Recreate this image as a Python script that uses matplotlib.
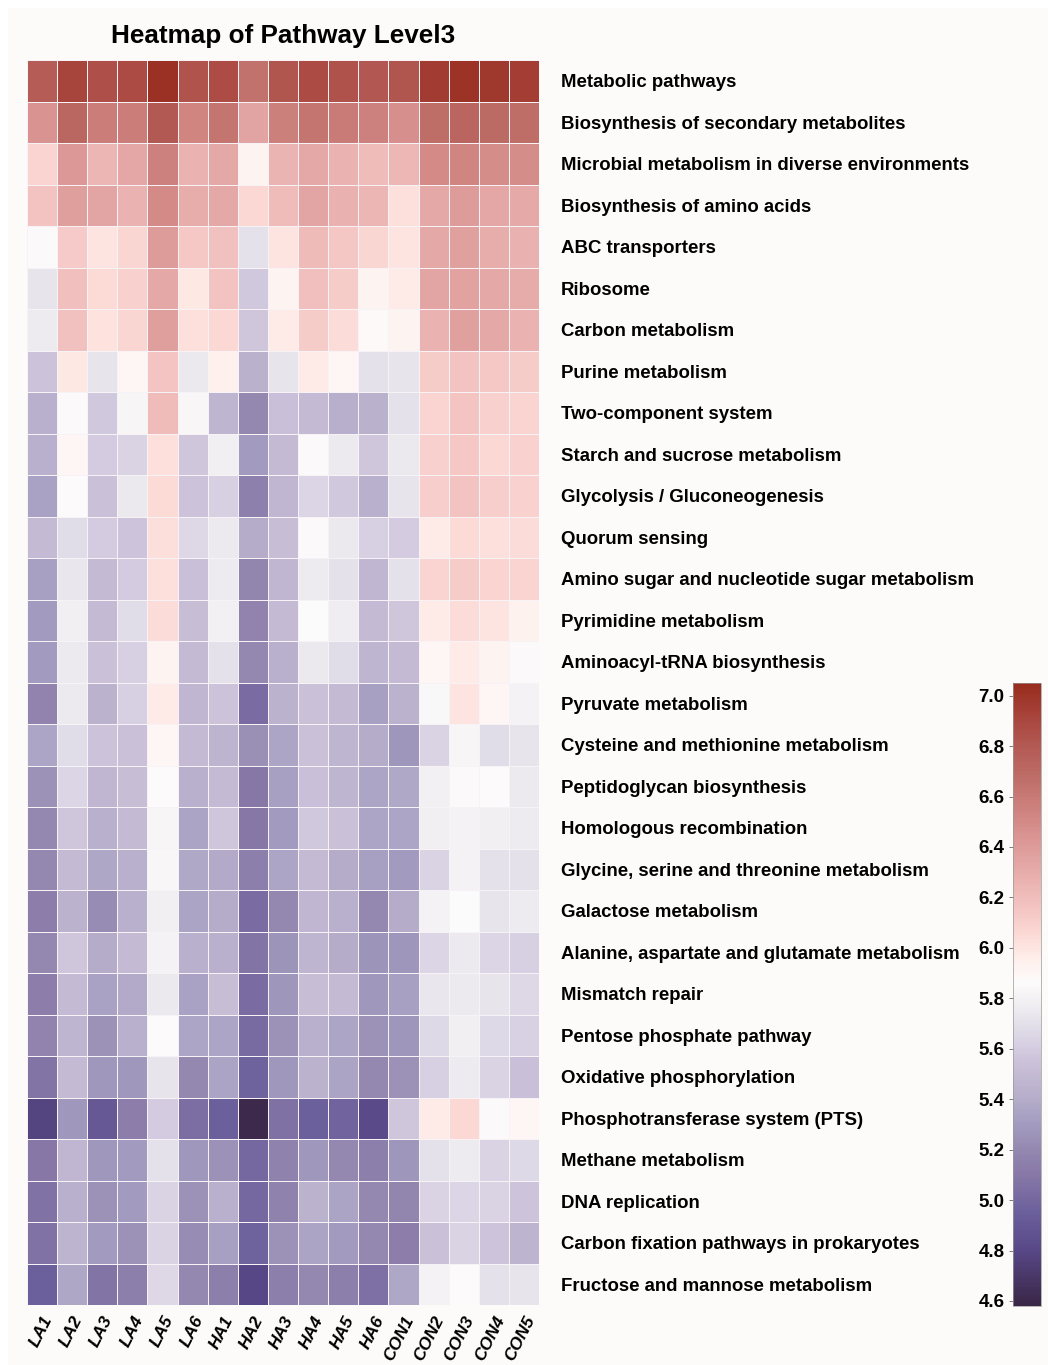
import numpy as np
import matplotlib
matplotlib.use("Agg")
import matplotlib.pyplot as plt
from matplotlib.colors import LinearSegmentedColormap, Normalize
from matplotlib.patches import Rectangle

plt.rcParams['font.family'] = ['Liberation Sans', 'DejaVu Sans']

samples = ['LA1', 'LA2', 'LA3', 'LA4', 'LA5', 'LA6',
           'HA1', 'HA2', 'HA3', 'HA4', 'HA5', 'HA6',
           'CON1', 'CON2', 'CON3', 'CON4', 'CON5']

pathways = [
    'Metabolic pathways',
    'Biosynthesis of secondary metabolites',
    'Microbial metabolism in diverse environments',
    'Biosynthesis of amino acids',
    'ABC transporters',
    'Ribosome',
    'Carbon metabolism',
    'Purine metabolism',
    'Two-component system',
    'Starch and sucrose metabolism',
    'Glycolysis / Gluconeogenesis',
    'Quorum sensing',
    'Amino sugar and nucleotide sugar metabolism',
    'Pyrimidine metabolism',
    'Aminoacyl-tRNA biosynthesis',
    'Pyruvate metabolism',
    'Cysteine and methionine metabolism',
    'Peptidoglycan biosynthesis',
    'Homologous recombination',
    'Glycine, serine and threonine metabolism',
    'Galactose metabolism',
    'Alanine, aspartate and glutamate metabolism',
    'Mismatch repair',
    'Pentose phosphate pathway',
    'Oxidative phosphorylation',
    'Phosphotransferase system (PTS)',
    'Methane metabolism',
    'DNA replication',
    'Carbon fixation pathways in prokaryotes',
    'Fructose and mannose metabolism',
]

# log abundance per pathway (rows) and sample (columns)
abundance = [
    [6.78, 6.92, 6.85, 6.88, 7.02, 6.83, 6.87, 6.65, 6.82, 6.88, 6.84, 6.81, 6.82, 6.96, 7.01, 6.98, 6.95],
    [6.45, 6.72, 6.58, 6.58, 6.80, 6.53, 6.63, 6.35, 6.56, 6.63, 6.59, 6.55, 6.48, 6.68, 6.73, 6.70, 6.68],
    [6.08, 6.42, 6.24, 6.33, 6.55, 6.26, 6.32, 5.93, 6.25, 6.32, 6.26, 6.21, 6.23, 6.50, 6.53, 6.49, 6.49],
    [6.17, 6.38, 6.34, 6.26, 6.50, 6.29, 6.32, 6.06, 6.21, 6.34, 6.27, 6.24, 6.02, 6.32, 6.40, 6.33, 6.31],
    [5.85, 6.13, 6.00, 6.07, 6.40, 6.14, 6.18, 5.70, 6.00, 6.22, 6.15, 6.07, 6.00, 6.32, 6.37, 6.29, 6.27],
    [5.72, 6.19, 6.05, 6.10, 6.32, 5.98, 6.17, 5.58, 5.92, 6.19, 6.12, 5.93, 5.97, 6.34, 6.36, 6.32, 6.30],
    [5.76, 6.18, 6.01, 6.07, 6.38, 6.02, 6.06, 5.57, 5.97, 6.12, 6.04, 5.88, 5.93, 6.26, 6.37, 6.32, 6.26],
    [5.55, 5.98, 5.72, 5.90, 6.16, 5.74, 5.95, 5.43, 5.72, 5.97, 5.90, 5.70, 5.72, 6.12, 6.17, 6.14, 6.12],
    [5.42, 5.85, 5.58, 5.82, 6.21, 5.83, 5.46, 5.20, 5.53, 5.50, 5.41, 5.43, 5.70, 6.08, 6.16, 6.10, 6.08],
    [5.42, 5.90, 5.60, 5.64, 6.02, 5.57, 5.78, 5.30, 5.50, 5.85, 5.75, 5.57, 5.74, 6.10, 6.14, 6.06, 6.09],
    [5.34, 5.87, 5.54, 5.74, 6.05, 5.55, 5.62, 5.15, 5.47, 5.65, 5.58, 5.42, 5.72, 6.11, 6.17, 6.11, 6.09],
    [5.50, 5.68, 5.60, 5.56, 6.03, 5.66, 5.75, 5.40, 5.52, 5.85, 5.74, 5.62, 5.60, 5.97, 6.05, 6.02, 6.04],
    [5.33, 5.73, 5.50, 5.60, 6.02, 5.53, 5.76, 5.18, 5.47, 5.76, 5.70, 5.47, 5.70, 6.08, 6.12, 6.08, 6.08],
    [5.30, 5.78, 5.50, 5.68, 6.04, 5.52, 5.79, 5.17, 5.50, 5.86, 5.77, 5.50, 5.57, 5.97, 6.04, 6.00, 5.94],
    [5.30, 5.75, 5.54, 5.62, 5.93, 5.50, 5.70, 5.20, 5.42, 5.74, 5.68, 5.46, 5.50, 5.90, 5.97, 5.92, 5.85],
    [5.17, 5.75, 5.44, 5.62, 5.97, 5.47, 5.55, 5.03, 5.44, 5.54, 5.50, 5.33, 5.44, 5.84, 6.00, 5.90, 5.80],
    [5.36, 5.68, 5.55, 5.54, 5.90, 5.50, 5.45, 5.24, 5.36, 5.54, 5.46, 5.40, 5.27, 5.64, 5.82, 5.68, 5.72],
    [5.25, 5.65, 5.47, 5.52, 5.87, 5.42, 5.50, 5.10, 5.33, 5.53, 5.46, 5.36, 5.38, 5.79, 5.85, 5.87, 5.75],
    [5.20, 5.57, 5.42, 5.50, 5.82, 5.35, 5.57, 5.10, 5.30, 5.58, 5.54, 5.36, 5.36, 5.78, 5.80, 5.78, 5.76],
    [5.20, 5.50, 5.37, 5.42, 5.83, 5.38, 5.39, 5.14, 5.36, 5.50, 5.40, 5.33, 5.30, 5.64, 5.80, 5.70, 5.70],
    [5.13, 5.44, 5.22, 5.42, 5.78, 5.35, 5.40, 5.03, 5.20, 5.47, 5.42, 5.20, 5.40, 5.80, 5.86, 5.72, 5.76],
    [5.20, 5.57, 5.40, 5.50, 5.80, 5.42, 5.42, 5.08, 5.26, 5.46, 5.40, 5.26, 5.27, 5.65, 5.75, 5.65, 5.62],
    [5.13, 5.50, 5.34, 5.39, 5.74, 5.34, 5.52, 5.03, 5.27, 5.52, 5.50, 5.28, 5.33, 5.73, 5.75, 5.72, 5.66],
    [5.17, 5.46, 5.25, 5.42, 5.87, 5.36, 5.36, 5.02, 5.25, 5.42, 5.36, 5.25, 5.27, 5.67, 5.78, 5.67, 5.63],
    [5.08, 5.50, 5.28, 5.28, 5.72, 5.20, 5.35, 4.97, 5.28, 5.44, 5.35, 5.20, 5.25, 5.62, 5.76, 5.64, 5.53],
    [4.78, 5.28, 4.90, 5.13, 5.60, 5.04, 4.95, 4.60, 5.06, 4.95, 4.98, 4.82, 5.57, 5.97, 6.06, 5.85, 5.90],
    [5.10, 5.47, 5.28, 5.30, 5.70, 5.28, 5.25, 5.00, 5.16, 5.28, 5.20, 5.14, 5.27, 5.70, 5.76, 5.64, 5.67],
    [5.07, 5.42, 5.25, 5.30, 5.64, 5.25, 5.42, 5.00, 5.16, 5.44, 5.35, 5.20, 5.18, 5.64, 5.65, 5.64, 5.56],
    [5.07, 5.45, 5.30, 5.25, 5.64, 5.22, 5.33, 4.97, 5.25, 5.35, 5.30, 5.20, 5.13, 5.54, 5.64, 5.56, 5.45],
    [4.95, 5.37, 5.08, 5.14, 5.66, 5.20, 5.14, 4.80, 5.14, 5.20, 5.14, 5.05, 5.37, 5.80, 5.87, 5.70, 5.72],
]

cbar_ticks = [4.6, 4.8, 5.0, 5.2, 5.4, 5.6, 5.8, 6.0, 6.2, 6.4, 6.6, 6.8, 7.0]
vmin, vmax = 4.58, 7.05

# purple -> white -> red, anchored on data values
anchors = [
    (4.58, '#3a2646'), (4.80, '#584888'), (4.95, '#6c609c'), (5.10, '#8878a8'),
    (5.20, '#9488b0'), (5.30, '#a49cc0'), (5.42, '#b8b0cc'), (5.50, '#c4bad4'),
    (5.60, '#d4cce0'), (5.70, '#e4e0ea'), (5.80, '#f4f2f4'), (5.86, '#fcfbfb'),
    (5.95, '#fef0ec'), (6.05, '#fcdad6'), (6.15, '#f4c6c4'), (6.25, '#ebb5b3'),
    (6.35, '#e2a4a2'), (6.50, '#d48b88'), (6.60, '#c87a76'), (6.70, '#bc6a64'),
    (6.80, '#b45a55'), (6.90, '#aa4840'), (7.05, '#982c1e'),
]
cmap = LinearSegmentedColormap.from_list(
    'pw', [((v - vmin) / (vmax - vmin), c) for v, c in anchors])

W, H = 1048, 1365
fig = plt.figure(figsize=(W / 100, H / 100), dpi=100, facecolor='white')
fig.patches.append(Rectangle((8 / W, 0), 1, 1 - 8 / H, transform=fig.transFigure,
                             facecolor='#fdfbfa', edgecolor='none', zorder=-1))

ax = fig.add_axes([27 / W, 1 - 1305 / H, 512 / W, 1245 / H])
data = np.array(abundance)
norm = Normalize(vmin=vmin, vmax=vmax)
mesh = ax.pcolormesh(data, cmap=cmap, norm=norm, edgecolors='#f6f2f6', linewidth=0.6)
ax.set_xlim(0, len(samples))
ax.set_ylim(len(pathways), 0)
for s in ax.spines.values():
    s.set_visible(False)

ax.set_xticks(np.arange(len(samples)) + 0.5)
ax.set_xticklabels(samples, rotation=63, ha='right', rotation_mode='anchor',
                   fontsize=12.5, fontweight='bold', fontstyle='italic')
ax.set_yticks(np.arange(len(pathways)) + 0.5)
ax.set_yticklabels(pathways, fontsize=13.4, fontweight='bold')
ax.yaxis.tick_right()
ax.tick_params(axis='both', length=0)
ax.tick_params(axis='y', pad=16)
ax.tick_params(axis='x', pad=6)

ax.set_title('Heatmap of Pathway Level3', fontsize=18.8, fontweight='bold', pad=12)

cax = fig.add_axes([1013 / W, 1 - 1306 / H, 28 / W, 623 / H])
cb = fig.colorbar(mesh, cax=cax, ticks=cbar_ticks)
cb.outline.set_linewidth(0.5)
cb.outline.set_edgecolor('#999999')
cax.yaxis.set_ticks_position('left')
cax.yaxis.set_label_position('left')
cax.tick_params(length=3, width=0.6, color='#666666', labelsize=13.5, pad=3)
cax.set_yticklabels([f'{t:.1f}' for t in cbar_ticks], fontweight='bold')

fig.savefig('out.png', dpi=100, facecolor=fig.get_facecolor())
